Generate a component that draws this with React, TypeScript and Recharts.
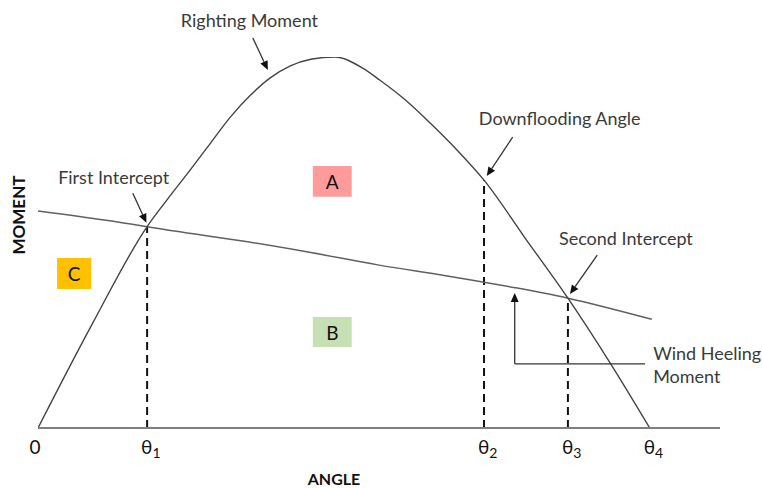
import React from 'react';
import {
  ComposedChart,
  Line,
  XAxis,
  YAxis,
  ReferenceLine,
  ReferenceArea,
  ReferenceDot,
} from 'recharts';

// Righting moment curve (angle, moment)
const rightingAngles = [0, 8, 16, 19, 22.3, 25.3, 28.2, 31.1, 34, 37, 40, 43.5, 47.6, 50.1, 54, 57.5, 61.5, 65.4, 71.5, 77.7, 83.9, 89.7];
const rightingMoments = [0, 28.2, 54.3, 61.7, 69.5, 76.8, 83.8, 89.6, 94.3, 97.6, 99.4, 100, 97.0, 93.8, 88.2, 82.2, 74.8, 66.8, 51.0, 35.0, 17.5, 0];

// Wind heeling moment curve
const heelingAngles = [0, 10, 20, 30, 40, 50, 60, 70, 77.7, 90];
const heelingMoments = [58.5, 56.0, 53.1, 50.4, 47.3, 43.9, 41.0, 37.8, 35.0, 29.3];

// Axis ticks
const tickAngles = [0, 16, 65.4, 77.7, 89.7];
const tickBase = ['0', 'θ', 'θ', 'θ', 'θ'];
const tickSubs = ['', '1', '2', '3', '4'];

// Dashed verticals (θ1, θ2, θ3) and their heights on the curve
const dashAngles = [16, 65.4, 77.7];
const dashTops = [54.3, 66.8, 35.0];

// Area boxes
const boxLabels = ['A', 'B', 'C'];
const boxX1 = [40.3, 40.3, 2.8];
const boxX2 = [46.0, 46.0, 7.8];
const boxY1 = [62.3, 21.8, 37.5];
const boxY2 = [70.6, 29.9, 45.8];
const boxColors = ['#ff9b9b', '#c6e0b4', '#ffc000'];

// Annotation texts (anchor in data coords)
const noteTexts = ['Righting Moment', 'First Intercept', 'Downflooding Angle', 'Second Intercept'];
const noteX = [31.0, 11.1, 76.5, 86.2];
const noteY = [110.0, 67.7, 83.6, 51.2];
// Annotation arrows (from -> to)
const arrowX1 = [31.5, 13.9, 69.6, 82.0];
const arrowY1 = [105.1, 63.3, 78.4, 46.6];
const arrowX2 = [33.7, 15.9, 65.8, 78.0];
const arrowY2 = [96.5, 55.3, 67.9, 36.1];

// Wind heeling moment callout
const windLines = ['Wind Heeling', 'Moment'];
const windTextX = 90.2;
const windTextY = [20.2, 14.0];
const windElbow = { xEnd: 89.0, xCorner: 69.9, yCorner: 17.3, yTip: 36.4 };

const rightingData = rightingAngles.map((a, i) => ({ x: a, y: rightingMoments[i] }));
const heelingData = heelingAngles.map((a, i) => ({ x: a, y: heelingMoments[i] }));

const FONT = "Lato, 'Open Sans', sans-serif";
const NOTE_COLOR = '#3a3a3a';

const ArrowShape = (props: any) => {
  const { x1, y1, x2, y2 } = props;
  const dx = x2 - x1;
  const dy = y2 - y1;
  const len = Math.sqrt(dx * dx + dy * dy) || 1;
  const ux = dx / len;
  const uy = dy / len;
  const hl = 9;
  const hw = 4;
  const bx = x2 - ux * hl;
  const by = y2 - uy * hl;
  const p1 = `${x2},${y2}`;
  const p2 = `${bx - uy * hw},${by + ux * hw}`;
  const p3 = `${bx + uy * hw},${by - ux * hw}`;
  return (
    <g>
      <line x1={x1} y1={y1} x2={bx} y2={by} stroke="#333" strokeWidth={1.3} />
      <polygon points={`${p1} ${p2} ${p3}`} fill="#111" />
    </g>
  );
};

const PlainSeg = (props: any) => {
  const { x1, y1, x2, y2 } = props;
  return <line x1={x1} y1={y1} x2={x2} y2={y2} stroke="#333" strokeWidth={1.3} />;
};

const DashSeg = (props: any) => {
  const { x1, y1, x2, y2 } = props;
  return (
    <line x1={x1} y1={y1} x2={x2} y2={y2} stroke="#111" strokeWidth={2} strokeDasharray="8 5" />
  );
};

const AngleTick = (props: any) => {
  const { x, y, payload } = props;
  const i = tickAngles.indexOf(payload.value);
  if (i < 0) return null;
  if (tickSubs[i] === '') {
    return (
      <text x={x - 3} y={y + 18} textAnchor="middle" dominantBaseline="central" fontFamily={FONT} fontSize={19} fill="#111">
        {tickBase[i]}
      </text>
    );
  }
  return (
    <text x={x - 6} y={y + 18} dominantBaseline="central" fontFamily={FONT} fontSize={19} fill="#111">
      <tspan>{tickBase[i]}</tspan>
      <tspan dy={6} fontSize={14}>{tickSubs[i]}</tspan>
    </text>
  );
};

const textShape = (txt: string, opts: any = {}) => (props: any) => {
  const { cx, cy } = props;
  return (
    <text
      x={cx}
      y={cy}
      textAnchor={opts.anchor || 'middle'}
      dominantBaseline="central"
      fontFamily={FONT}
      fontSize={opts.size || 18}
      fontWeight={opts.weight || 'normal'}
      fill={opts.color || NOTE_COLOR}
      transform={opts.rotate ? `rotate(${opts.rotate}, ${cx}, ${cy})` : undefined}
    >
      {txt}
    </text>
  );
};

export default function App() {
  return (
    <div style={{ position: 'absolute', left: 0, top: 0, background: '#fff' }}>
      <ComposedChart
        width={762}
        height={488}
        margin={{ top: 57, right: 42, left: 38, bottom: 0 }}
      >
        <XAxis
          type="number"
          dataKey="x"
          domain={[0, 100]}
          ticks={tickAngles}
          allowDataOverflow
          height={60}
          tickLine={false}
          tickSize={0}
          tickMargin={0}
          axisLine={{ stroke: '#7f7f7f', strokeWidth: 2 }}
          tick={<AngleTick />}
          interval={0}
        />
        <YAxis
          type="number"
          domain={[0, 100]}
          allowDataOverflow
          width={0}
          tick={false}
          tickLine={false}
          axisLine={{ stroke: '#000', strokeWidth: 1.5 }}
        />

        {boxLabels.map((lab, i) => (
          <ReferenceArea
            key={'box' + lab}
            x1={boxX1[i]}
            x2={boxX2[i]}
            y1={boxY1[i]}
            y2={boxY2[i]}
            fill={boxColors[i]}
            fillOpacity={1}
            stroke="none"
            ifOverflow="visible"
          />
        ))}
        {boxLabels.map((lab, i) => (
          <ReferenceDot
            key={'boxl' + lab}
            x={(boxX1[i] + boxX2[i]) / 2}
            y={(boxY1[i] + boxY2[i]) / 2}
            r={1}
            ifOverflow="visible"
            shape={textShape(lab, { color: '#111', size: 19 })}
          />
        ))}

        {dashAngles.map((a, i) => (
          <ReferenceLine
            key={'dash' + i}
            segment={[{ x: a, y: 0 }, { x: a, y: dashTops[i] }]}
            ifOverflow="visible"
            shape={DashSeg}
          />
        ))}

        <Line
          data={heelingData}
          dataKey="y"
          type="monotone"
          stroke="#606060"
          strokeWidth={1.5}
          dot={false}
          activeDot={false}
          isAnimationActive={false}
        />
        <Line
          data={rightingData}
          dataKey="y"
          type="monotone"
          stroke="#444"
          strokeWidth={1.4}
          dot={false}
          activeDot={false}
          isAnimationActive={false}
        />

        {noteTexts.map((t, i) => (
          <ReferenceLine
            key={'arrow' + i}
            segment={[{ x: arrowX1[i], y: arrowY1[i] }, { x: arrowX2[i], y: arrowY2[i] }]}
            ifOverflow="visible"
            shape={ArrowShape}
          />
        ))}
        {noteTexts.map((t, i) => (
          <ReferenceDot
            key={'note' + i}
            x={noteX[i]}
            y={noteY[i]}
            r={1}
            ifOverflow="visible"
            shape={textShape(t)}
          />
        ))}

        <ReferenceLine
          segment={[{ x: windElbow.xEnd, y: windElbow.yCorner }, { x: windElbow.xCorner, y: windElbow.yCorner }]}
          ifOverflow="visible"
          shape={PlainSeg}
        />
        <ReferenceLine
          segment={[{ x: windElbow.xCorner, y: windElbow.yCorner }, { x: windElbow.xCorner, y: windElbow.yTip }]}
          ifOverflow="visible"
          shape={ArrowShape}
        />
        {windLines.map((t, i) => (
          <ReferenceDot
            key={'wind' + i}
            x={windTextX}
            y={windTextY[i]}
            r={1}
            ifOverflow="visible"
            shape={textShape(t, { anchor: 'start' })}
          />
        ))}

        <ReferenceDot
          x={-2.93}
          y={57.4}
          r={1}
          ifOverflow="visible"
          shape={textShape('MOMENT', { color: '#111', weight: 'bold', size: 17, rotate: -90 })}
        />
        <ReferenceDot
          x={43.4}
          y={-13.6}
          r={1}
          ifOverflow="visible"
          shape={textShape('ANGLE', { color: '#111', weight: 'bold', size: 16 })}
        />
      </ComposedChart>
    </div>
  );
}
